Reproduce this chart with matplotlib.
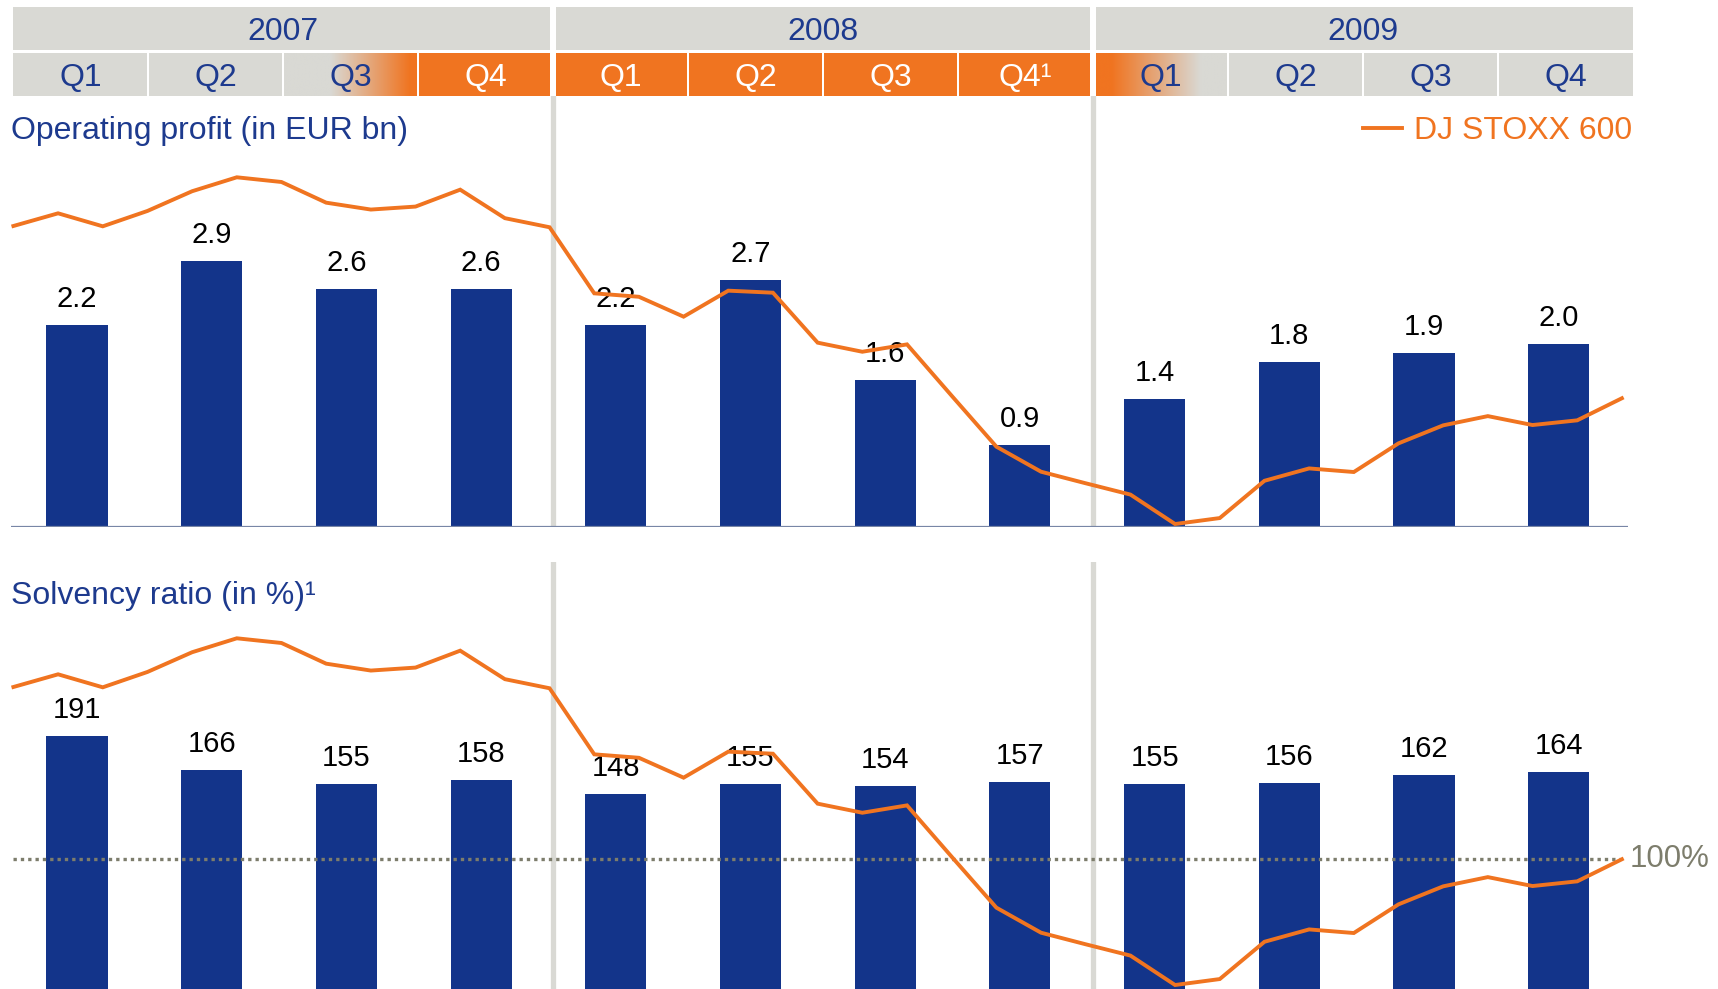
import numpy as np
import matplotlib
matplotlib.use('Agg')
import matplotlib.pyplot as plt
from matplotlib.patches import Rectangle

plt.rcParams['font.family'] = ['Liberation Sans', 'DejaVu Sans']

# ---- data ----
years = ['2007', '2008', '2009']
quarter_labels = ['Q1', 'Q2', 'Q3', 'Q4', 'Q1', 'Q2', 'Q3', 'Q4¹', 'Q1', 'Q2', 'Q3', 'Q4']
# header shading: g = grey, o = orange, go / og = fade
header_fill = ['g', 'g', 'go', 'o', 'o', 'o', 'o', 'o', 'og', 'g', 'g', 'g']

operating_profit = [2.2, 2.9, 2.6, 2.6, 2.2, 2.7, 1.6, 0.9, 1.4, 1.8, 1.9, 2.0]
solvency_ratio = [191, 166, 155, 158, 148, 155, 154, 157, 155, 156, 162, 164]

# DJ STOXX 600, month-end, Dec 2006 .. Dec 2009
stoxx = [364.0, 372.1, 363.8, 373.6, 386.2, 395.1, 392.1, 378.9, 374.5, 376.4,
         387.2, 369.0, 363.2, 321.0, 318.8, 306.1, 322.7, 321.4, 289.5, 283.7,
         288.4, 255.6, 223.1, 207.1, 199.7, 192.5, 173.7, 177.5, 201.3, 209.2,
         206.9, 225.2, 236.7, 242.6, 236.9, 239.9, 254.0]

# ---- style ----
BLUE = '#13348a'
TXT_BLUE = '#1d3a8e'
ORANGE = '#f07420'
GREY = '#d9d9d4'
DOT = '#7d7d6c'

W, H = 1718, 989

# bar axes: centre of first quarter and spacing (pixels)
b0, bstep = 77, 134.7
bar_xlim = (-b0 / bstep, (W - b0) / bstep)
# header: cell edges start at 13 px, 135 px per quarter
h0, hstep = 13, 135.0
head_xlim = (-h0 / hstep - 0.5, (W - h0) / hstep - 0.5)


def fy(px):
    return 1 - px / H


def to_bar(px):
    return (px - b0) / bstep


fig = plt.figure(figsize=(W / 100, H / 100), dpi=100)

x = np.arange(len(operating_profit))
xm = to_bar(13.4 + 44.68 * np.arange(len(stoxx)))
bar_w = 0.453
seps = [to_bar(h0 + hstep * 4), to_bar(h0 + hstep * 8)]

# ---- top panel: operating profit ----
top_px, base_px, op_scale = 96, 527, 91.6
ax1 = fig.add_axes([0, fy(base_px), 1, (base_px - top_px) / H])
ax1.set_xlim(bar_xlim)
ax1.set_ylim(0, (base_px - top_px) / op_scale)
ax1.set_axis_off()
ax1.bar(x, operating_profit, bar_w, color=BLUE, zorder=2)
for xi, v in zip(x, operating_profit):
    ax1.annotate(f'{v:.1f}', (xi, v), xytext=(0, 13), textcoords='offset points',
                 ha='center', va='baseline', fontsize=21, color='black', zorder=3)
for sep in seps:
    ax1.axvline(sep, ymin=0.006, ymax=1, color=GREY, lw=3.8, zorder=0)
ax1.hlines(0, to_bar(11), to_bar(1628), color='#7886a6', lw=1.6, zorder=4)

# line scale: pixels per index point, pixel row of 364 in each panel
pp = 1.566


def twin_limits(ax_top_px, ax_bot_px, ref_px):
    return (364 - (ax_bot_px - ref_px) / pp, 364 + (ref_px - ax_top_px) / pp)


ax1b = ax1.twinx()
ax1b.set_axis_off()
ax1b.set_xlim(bar_xlim)
ax1b.set_ylim(twin_limits(top_px, base_px, 226))
ax1b.plot(xm, stoxx, color=ORANGE, lw=2.8, solid_joinstyle='miter',
          clip_on=False, label='DJ STOXX 600')

ax1b.legend(loc='upper right', bbox_to_anchor=(1632 / W, fy(116)),
            bbox_transform=fig.transFigure, frameon=False, fontsize=23,
            handlelength=1.2, handletextpad=0.38, borderpad=0, borderaxespad=0,
            labelcolor='linecolor')

# ---- bottom panel: solvency ratio ----
b_top, b_bot, ref100, sol_scale = 562, 989, 858.7, 1.35
ax2 = fig.add_axes([0, 0, 1, (b_bot - b_top) / H])
ax2.set_xlim(bar_xlim)
ax2.set_ylim(100 - (b_bot - ref100) / sol_scale, 100 + (ref100 - b_top) / sol_scale)
ax2.set_axis_off()
ax2.bar(x, solvency_ratio, bar_w, color=BLUE, zorder=2)
for xi, v in zip(x, solvency_ratio):
    ax2.annotate(f'{v}', (xi, v), xytext=(0, 13), textcoords='offset points',
                 ha='center', va='baseline', fontsize=21, color='black', zorder=3)
for sep in seps:
    ax2.axvline(sep, color=GREY, lw=3.8, zorder=0)
ax2.hlines(100, to_bar(13), to_bar(1620), color=DOT, lw=2.4,
           linestyles=(0, (1, 1.2)), zorder=4)
ax2.text(to_bar(1630), 100, '100%', ha='left', va='center', fontsize=22.5, color=DOT)

ax2b = ax2.twinx()
ax2b.set_axis_off()
ax2b.set_xlim(bar_xlim)
ax2b.set_ylim(twin_limits(b_top, b_bot, 226 + 461))
ax2b.plot(xm, stoxx, color=ORANGE, lw=2.8, solid_joinstyle='miter', clip_on=False)

# ---- titles ----
fig.text(11 / W, fy(139), 'Operating profit (in EUR bn)', ha='left', va='baseline',
         fontsize=23, color=TXT_BLUE)
fig.text(11 / W, fy(604), 'Solvency ratio (in %)¹', ha='left', va='baseline',
         fontsize=23, color=TXT_BLUE)

# ---- header ----
axh = fig.add_axes([0, fy(100), 1, 100 / H])
axh.set_axis_off()

grey_rgb = np.array(matplotlib.colors.to_rgb(GREY))
orange_rgb = np.array(matplotlib.colors.to_rgb(ORANGE))


def fade(c_from, c_to, t0, t1):
    t = np.linspace(0, 1, 300)
    f = np.clip((t - t0) / (t1 - t0), 0, 1)[:, None]
    return (c_from * (1 - f) + c_to * f)[None, :, :]


def hx(px):
    return px / hstep


def insets(first, last):
    # gap between years is wider than between quarters; none at the outer edges
    lft = 0 if first == 0 else (hx(3.2) if first % 4 == 0 else hx(1.3))
    rgt = 0 if last == 11 else (hx(3.2) if last % 4 == 3 else hx(1.3))
    return lft, rgt


yr_top, yr_bot, q_top, q_bot = 7, 50, 53, 96
for j, yr in enumerate(years):
    lf, rg = insets(4 * j, 4 * j + 3)
    left = 4 * j - 0.5 + lf
    right = 4 * j + 3.5 - rg
    axh.add_patch(Rectangle((left, yr_top), right - left, yr_bot - yr_top,
                            facecolor=GREY, edgecolor='none'))
    axh.text(4 * j + 1.5, (yr_top + yr_bot) / 2 + 3.5, yr, ha='center',
             va='center', fontsize=23, color=TXT_BLUE)

for i, (lab, fill) in enumerate(zip(quarter_labels, header_fill)):
    lf, rg = insets(i, i)
    left = i - 0.5 + lf
    right = i + 0.5 - rg
    if fill == 'g':
        axh.add_patch(Rectangle((left, q_top), right - left, q_bot - q_top,
                                facecolor=GREY, edgecolor='none'))
        tc = TXT_BLUE
    elif fill == 'o':
        axh.add_patch(Rectangle((left, q_top), right - left, q_bot - q_top,
                                facecolor=ORANGE, edgecolor='none'))
        tc = 'white'
    elif fill == 'go':
        axh.imshow(fade(grey_rgb, orange_rgb, 0.35, 0.95), extent=(left, right, q_bot, q_top),
                   aspect='auto', interpolation='bilinear')
        tc = TXT_BLUE
    else:
        axh.imshow(fade(orange_rgb, grey_rgb, 0.12, 0.8), extent=(left, right, q_bot, q_top),
                   aspect='auto', interpolation='bilinear')
        tc = TXT_BLUE
    axh.text(i, (q_top + q_bot) / 2 + 3.5, lab, ha='center', va='center',
             fontsize=23, color=tc)

axh.set_xlim(head_xlim)
axh.set_ylim(100, 0)

fig.savefig('out.png', dpi=100, facecolor='white')
